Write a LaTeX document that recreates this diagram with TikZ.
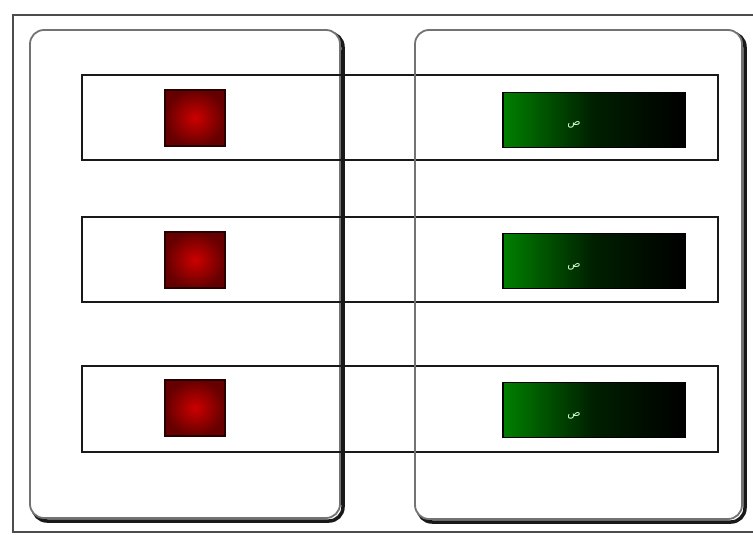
\documentclass[tikz,border=0pt]{standalone}
\usepackage{fontspec}
\newfontfamily\arabicfont[Script=Arabic]{DejaVu Sans}
\TeXXeTstate=1
\usetikzlibrary{shadings}
\begin{document}
\begin{tikzpicture}[x=1pt,y=-1pt,
  panel/.style={draw=black!55,line width=1.8pt,fill=white,rounded corners=14pt},
  panelshadow/.style={draw=black!90,line width=3.5pt,rounded corners=14pt},
  rowbox/.style={draw=black!90,line width=2.6pt},
  redlamp/.style={draw=black!85!red,line width=1.5pt,inner color=red!80!black,outer color=red!40!black,minimum width=60pt,minimum height=56pt,inner sep=0pt},
  greenlamp/.style={draw=black,line width=1.5pt,left color=green!50!black,right color=black,middle color=green!12!black,minimum width=182pt,minimum height=55pt,inner sep=0pt},
  lbl/.style={text=white!80!green,font=\arabicfont\fontsize{11}{11}\selectfont}]
\useasboundingbox (0,0) rectangle (753,535);
\fill[white] (0,0) rectangle (753,535);
% outer frame
\draw[black!70,line width=2.5pt] (760,15) -- (13,15) -- (13,532) -- (760,532);
% panels with shadow
\draw[panelshadow] (33,33) rectangle (343,521);
\draw[panel] (30,30) rectangle (340,518);
\draw[panelshadow] (418,33) rectangle (745,522);
\draw[panel] (415,30) rectangle (742,519);
% rows
\draw[rowbox] (82,75) rectangle (718,160);
\draw[rowbox] (82,217) rectangle (718,302);
\draw[rowbox] (82,366) rectangle (718,452);
% panel edges crossing the rows
\draw[black!90,line width=3.5pt] (343,50) -- (343,505);
\draw[black!55,line width=1.8pt] (415,50) -- (415,505);
% red lamps
\node[redlamp] (r1) at (195,118) {};
\node[redlamp] (r2) at (195,260) {};
\node[redlamp] (r3) at (195,408) {};
% green lamps
\node[greenlamp] (g1) at (594,120) {};
\node[greenlamp] (g2) at (594,261) {};
\node[greenlamp] (g3) at (594,410) {};
\node[lbl] (t1) at (574,125) {\beginR ص\endR};
\node[lbl] (t2) at (574,267) {\beginR ص\endR};
\node[lbl] (t3) at (574,416) {\beginR ص\endR};
\end{tikzpicture}
\end{document}
